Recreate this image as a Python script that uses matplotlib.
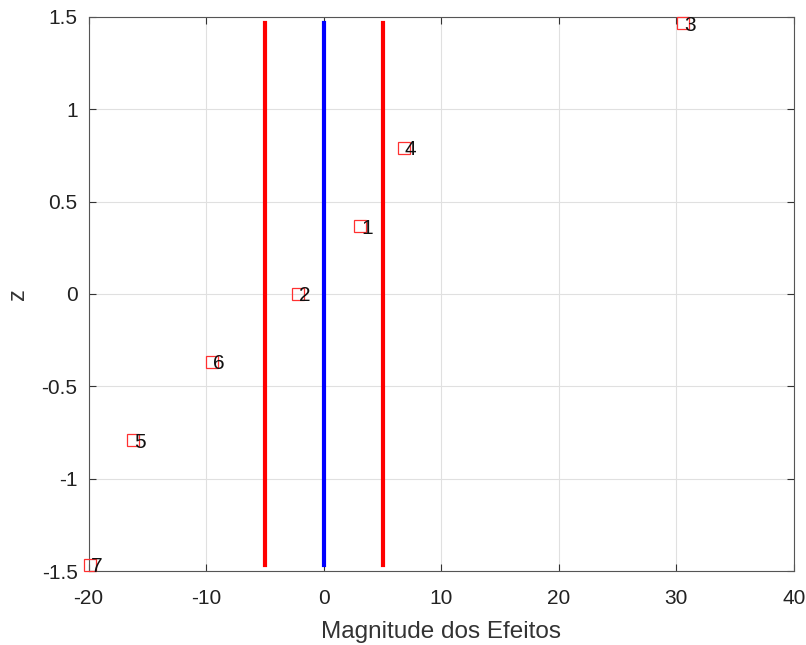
import matplotlib.pyplot as plt

labels = ['1', '2', '3', '4', '5', '6', '7']
efeitos = [3.1, -2.2, 30.6, 6.8, -16.2, -9.5, -19.9]
z = [0.366, 0.0, 1.465, 0.792, -0.792, -0.366, -1.465]
limite = 5.0
z_lim = 1.465

plt.rcParams['font.family'] = ['Liberation Sans', 'DejaVu Sans']
plt.rcParams['axes.unicode_minus'] = False

fig = plt.figure(figsize=(8.06, 6.45), dpi=100)
ax = fig.add_axes([0.110, 0.1147, 0.875, 0.859])

# pontos e rotulos
ax.plot(efeitos, z, 's', mfc='none', mec='#ff3030', ms=8, mew=0.9,
        zorder=3, clip_on=False)
for lab, x, y in zip(labels, efeitos, z):
    ax.text(x + 0.1, y - 0.01, lab, fontsize=15, va='center', ha='left',
            color='#111111', zorder=4)

# limites
ax.plot([-limite, -limite], [-z_lim, z_lim], color='red', lw=3)
ax.plot([limite, limite], [-z_lim, z_lim], color='red', lw=3)
ax.plot([0, 0], [-z_lim, z_lim], color='blue', lw=3)

ax.set_xlim(-20, 40)
ax.set_ylim(-1.5, 1.5)
ax.set_xticks(range(-20, 41, 10))
ax.set_yticks([-1.5, -1, -0.5, 0, 0.5, 1, 1.5])
ax.set_yticklabels(['-1.5', '-1', '-0.5', '0', '0.5', '1', '1.5'])
ax.grid(True, color='#e0e0e0', lw=0.8)
ax.set_axisbelow(True)
ax.tick_params(direction='in', top=True, right=True, labelsize=15,
               length=5, color='#333333', labelcolor='#222222')
ax.tick_params(axis='x', pad=13)
ax.tick_params(axis='y', pad=8)
for s in ax.spines.values():
    s.set_color('#555555')

ax.set_xlabel('Magnitude dos Efeitos', fontsize=17.5, color='#333333')
ax.set_ylabel('z', fontsize=17, color='#333333')
ax.xaxis.set_label_coords(0.5, -0.09)
ax.yaxis.set_label_coords(-0.085, 0.5)

fig.savefig('out.png', dpi=100)
